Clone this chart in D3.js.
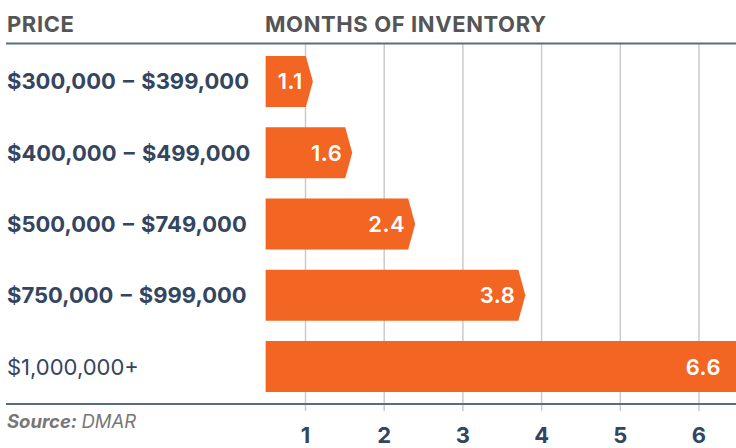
<!DOCTYPE html>
<html>
<head>
<meta charset="utf-8">
<script src="https://cdn.jsdelivr.net/npm/d3@7"></script>
<style>
  body { margin: 0; background: #fff; }
  svg { display: block; font-family: Inter, "Open Sans", sans-serif; }
</style>
</head>
<body>
<div id="chart"></div>
<script>
// Data
const categories = ["$300,000 – $399,000", "$400,000 – $499,000", "$500,000 – $749,000", "$750,000 – $999,000", "$1,000,000+"];
const months = [1.1, 1.6, 2.4, 3.8, 6.6];
const boldLabel = [true, true, true, true, false];
const tickValues = [1, 2, 3, 4, 5, 6];

const width = 736;
const height = 448;

const orange = "#f26522";
const slate = "#34455f";
const ruleColor = "#5b6b83";

const svg = d3.select("#chart")
  .append("svg")
  .attr("width", width)
  .attr("height", height);

// Scales
const x = d3.scaleLinear()
  .domain([1, 6])
  .range([305, 698.5]);

const y = d3.scaleBand()
  .domain(categories)
  .range([56, 392])
  .paddingInner(0.285)
  .paddingOuter(0);

const barStart = 0.5;   // bars begin left of the first gridline
const tipDepth = 7;

// Vertical gridlines
const grid = svg.append("g")
  .attr("transform", "translate(0,43)")
  .call(d3.axisBottom(x).tickValues(tickValues).tickSize(368).tickFormat(""));
grid.select(".domain").remove();
grid.selectAll(".tick line").attr("stroke", "#cbcbcb").attr("stroke-width", 1.5);

// Header texts
svg.append("text")
  .attr("x", 7).attr("y", 32)
  .attr("fill", "#555555")
  .attr("font-size", 22).attr("font-weight", 700)
  .attr("letter-spacing", 0.6)
  .text("PRICE");
svg.append("text")
  .attr("x", 265).attr("y", 32)
  .attr("fill", "#555555")
  .attr("font-size", 22).attr("font-weight", 700)
  .attr("letter-spacing", 0.6)
  .text("MONTHS OF INVENTORY");

// Bars with a pointed right end
const rows = categories.map((c, i) => ({ cat: c, value: months[i], bold: boldLabel[i] }));

svg.selectAll(".bar")
  .data(rows)
  .join("path")
  .attr("class", "bar")
  .attr("fill", orange)
  .attr("d", d => {
    const x0 = x(barStart), tip = x(d.value);
    const t = y(d.cat), b = t + y.bandwidth(), m = t + y.bandwidth() / 2;
    return `M${x0},${t}H${tip - tipDepth}L${tip},${m}L${tip - tipDepth},${b}H${x0}Z`;
  });

// Value labels inside the bars
svg.selectAll(".value")
  .data(rows)
  .join("text")
  .attr("class", "value")
  .attr("x", d => Math.min(x(d.value), width - 5) - 10)
  .attr("y", d => y(d.cat) + y.bandwidth() / 2 + 8)
  .attr("text-anchor", "end")
  .attr("fill", "#fff")
  .attr("font-size", 22).attr("font-weight", 600)
  .attr("letter-spacing", 0.5)
  .text(d => d.value.toFixed(1));

// Category labels
svg.selectAll(".cat")
  .data(rows)
  .join("text")
  .attr("class", "cat")
  .attr("x", 7)
  .attr("y", d => y(d.cat) + y.bandwidth() / 2 + 8)
  .attr("fill", slate)
  .attr("font-size", 22)
  .attr("font-weight", d => d.bold ? 700 : 400)
  .attr("word-spacing", 2)
  .text(d => d.cat);

// Rules
svg.append("line")
  .attr("x1", 6).attr("x2", width).attr("y1", 43.5).attr("y2", 43.5)
  .attr("stroke", ruleColor).attr("stroke-width", 2);
svg.append("line")
  .attr("x1", 6).attr("x2", width).attr("y1", 404).attr("y2", 404)
  .attr("stroke", ruleColor).attr("stroke-width", 2);

// Tick labels
const axis = svg.append("g")
  .attr("transform", "translate(0,404)")
  .call(d3.axisBottom(x).tickValues(tickValues).tickSize(0).tickPadding(0).tickFormat(d3.format("d")));
axis.select(".domain").remove();
axis.selectAll(".tick text")
  .attr("y", 39)
  .attr("dy", null)
  .attr("fill", slate)
  .attr("font-family", "Inter, sans-serif")
  .attr("font-size", 22).attr("font-weight", 700);

// Source note
const src = svg.append("text")
  .attr("x", 7).attr("y", 428)
  .attr("fill", "#777777")
  .attr("font-size", 18.5).attr("font-style", "italic");
src.append("tspan").attr("font-weight", 700).text("Source: ");
src.append("tspan").text("DMAR");
</script>
</body>
</html>
